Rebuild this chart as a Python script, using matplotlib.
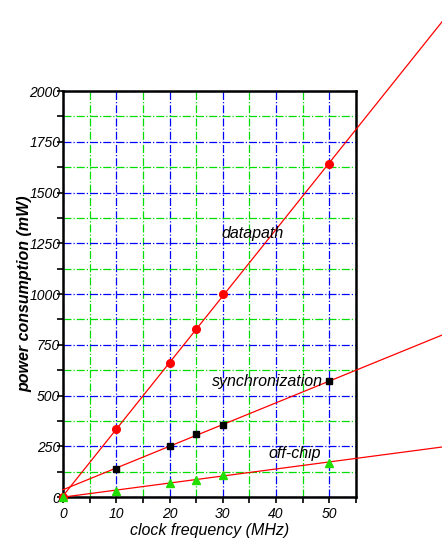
#!/usr/bin/env python3
import numpy as np
import matplotlib
matplotlib.use('Agg')
import matplotlib.pyplot as plt
from matplotlib.ticker import MultipleLocator

# clock frequency (MHz) and measured power (mW)
freq = [0, 10, 20, 25, 30, 50]
datapath = [0, 335, 660, 830, 1000, 1640]
sync_freq = [10, 20, 25, 30, 50]
sync = [140, 250, 310, 355, 570]
offchip = [0, 30, 70, 85, 110, 170]

labels = ['datapath', 'synchronization', 'off-chip']

plt.rcParams['font.family'] = ['Liberation Sans', 'DejaVu Sans']

fig = plt.figure(figsize=(4.42, 5.42), dpi=100)
ax = fig.add_axes([0.1425, 0.083, 0.663, 0.749])

# fitted lines run past the plot box up to the figure edge
xfit = np.array([0, 72])
for xs, ys in ((freq, datapath), (sync_freq, sync), (freq, offchip)):
    k, b = np.polyfit(xs, ys, 1)
    ax.plot(xfit, k * xfit + b, color='red', lw=0.9, clip_on=False, zorder=3)

ax.plot(freq, datapath, 'o', color='red', ms=5.5, zorder=4, clip_on=False)
ax.plot(sync_freq, sync, 's', color='black', ms=5, zorder=4)
ax.plot(freq, offchip, '^', color='#22dd00', ms=5.5, zorder=4, clip_on=False)

ax.text(29.8, 1300, labels[0], fontsize=11.5, style='italic', va='center')
ax.text(28, 570, labels[1], fontsize=11.5, style='italic', va='center')
ax.text(38.5, 215, labels[2], fontsize=11.5, style='italic', va='center')

ax.set_xlim(0, 55)
ax.set_ylim(0, 2000)
ax.xaxis.set_major_locator(MultipleLocator(10))
ax.xaxis.set_minor_locator(MultipleLocator(5))
ax.yaxis.set_major_locator(MultipleLocator(250))
ax.yaxis.set_minor_locator(MultipleLocator(125))

ax.grid(which='major', color='blue', ls='-.', lw=0.9)
ax.grid(which='minor', color='#00dd00', ls='-.', lw=0.9)
ax.set_axisbelow(True)

for s in ax.spines.values():
    s.set_linewidth(1.8)
ax.tick_params(which='both', direction='out', width=1.2)
ax.tick_params(which='major', length=4, labelsize=10)
ax.tick_params(axis='y', which='major', pad=-2)
ax.tick_params(which='minor', length=4)
for lab in ax.get_xticklabels() + ax.get_yticklabels():
    lab.set_style('italic')

ax.set_xlabel('clock frequency (MHz)', fontsize=11.5, style='italic', labelpad=1)
ax.set_ylabel('power consumption (mW)', fontsize=11.5, style='italic',
              weight='bold', labelpad=-2)

fig.savefig('out.png', dpi=100)
